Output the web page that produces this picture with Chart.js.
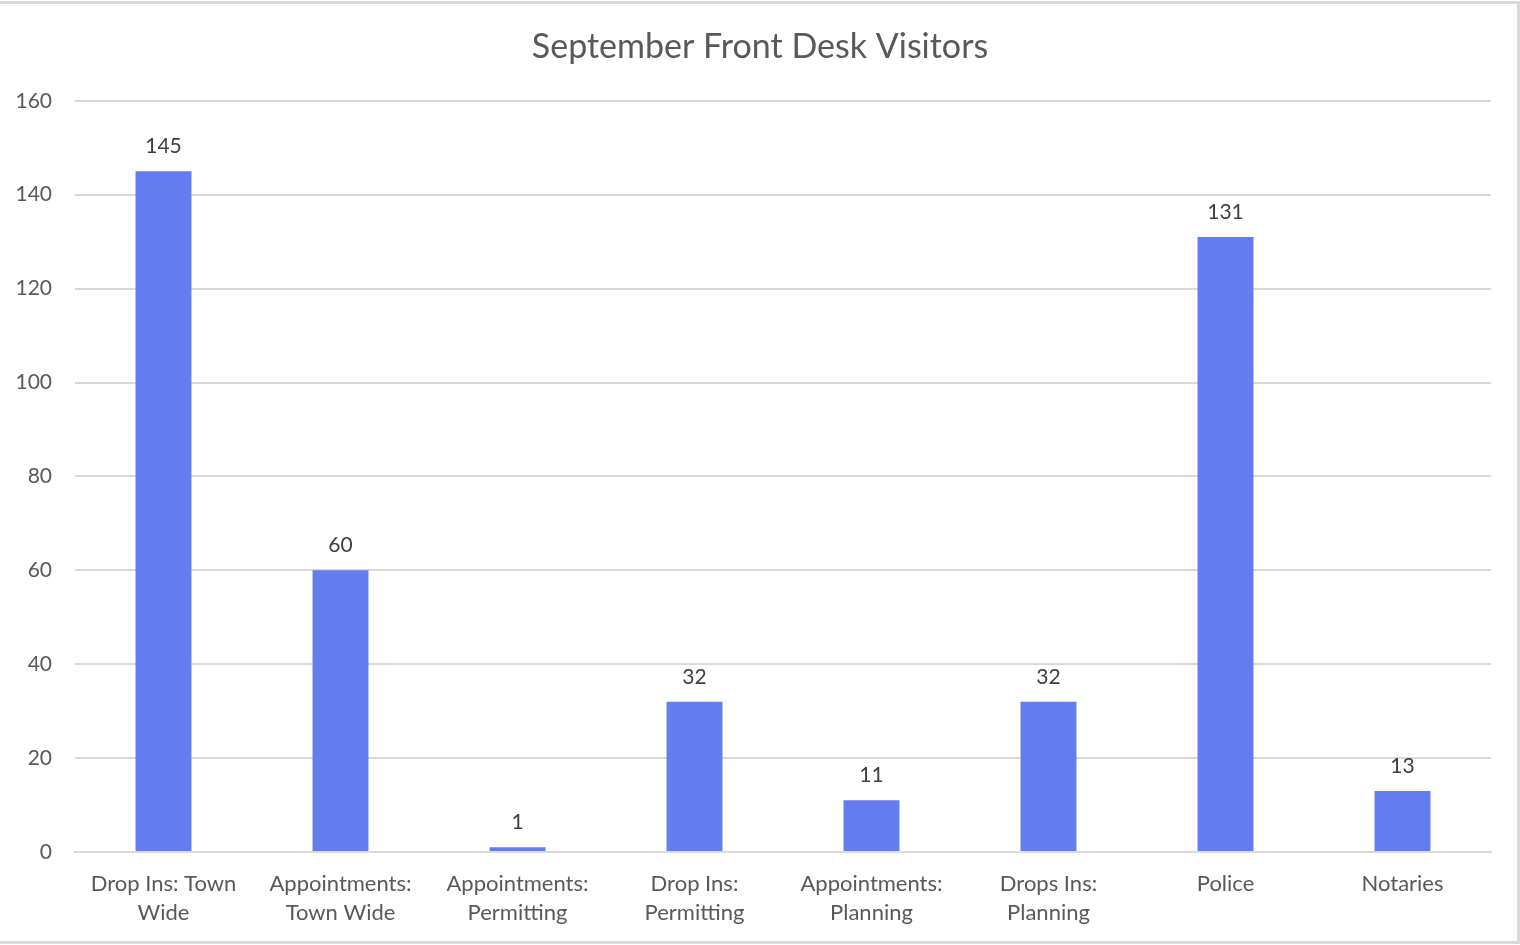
<!DOCTYPE html>
<html><head><meta charset="utf-8">
<script src="https://cdn.jsdelivr.net/npm/chart.js@4/dist/chart.umd.min.js"></script>
<style>html,body{margin:0;padding:0;background:#fff;}#wrap{width:1520px;height:945px;position:relative;}</style>
</head><body><div id="wrap"><canvas id="c" width="1520" height="945"></canvas></div>
<script>
const chartTitle = "September Front Desk Visitors";
const categories = [
  ["Drop Ins: Town", "Wide"],
  ["Appointments:", "Town Wide"],
  ["Appointments:", "Permitting"],
  ["Drop Ins:", "Permitting"],
  ["Appointments:", "Planning"],
  ["Drops Ins:", "Planning"],
  ["Police"],
  ["Notaries"]
];
const visitors = [145, 60, 1, 32, 11, 32, 131, 13];
const yMin = 0, yMax = 160, yStep = 20;

const FONT = "Lato, 'Noto Sans', sans-serif";
const TXT = "#595959";

const frame = {
  id: 'frame',
  beforeDraw(chart) {
    const ctx = chart.ctx;
    ctx.save();
    ctx.fillStyle = '#fff';
    ctx.fillRect(0, 0, chart.width, chart.height);
    ctx.strokeStyle = '#d9d9d9';
    ctx.lineWidth = 3;
    ctx.strokeRect(-2, 2.5, 1520.5, 940);
    ctx.restore();
  }
};
const valueLabels = {
  id: 'valueLabels',
  afterDatasetsDraw(chart) {
    const ctx = chart.ctx;
    const meta = chart.getDatasetMeta(0);
    ctx.save();
    ctx.font = "21px " + FONT;
    ctx.fillStyle = "#404040";
    ctx.textAlign = 'center';
    ctx.textBaseline = 'middle';
    meta.data.forEach((bar, i) => {
      ctx.fillText(String(chart.data.datasets[0].data[i]), bar.x, bar.y - 25);
    });
    ctx.restore();
  }
};

new Chart(document.getElementById('c'), {
  type: 'bar',
  data: {
    labels: categories,
    datasets: [{
      label: 'Visitors',
      data: visitors,
      backgroundColor: '#637cef',
      borderWidth: 0,
      categoryPercentage: 1,
      barPercentage: 0.316
    }]
  },
  options: {
    responsive: false,
    animation: false,
    devicePixelRatio: 1,
    layout: { padding: { left: 0, right: 0, top: 0, bottom: 0 } },
    plugins: {
      legend: { display: false },
      tooltip: { enabled: false },
      title: {
        display: true,
        text: chartTitle,
        color: TXT,
        font: { family: FONT, size: 34, weight: 'normal' },
        padding: { top: 27, bottom: 33 }
      }
    },
    scales: {
      x: {
        grid: { display: false, drawTicks: false },
        border: { display: true, color: '#d9d9d9', width: 2 },
        ticks: { color: TXT, font: { family: FONT, size: 22, lineHeight: 1.3 }, padding: 18, maxRotation: 0, autoSkip: false },
        afterFit(s) { s.height = 93; }
      },
      y: {
        min: yMin, max: yMax,
        grid: { color: '#d9d9d9', lineWidth: 2, drawTicks: false },
        border: { display: false },
        ticks: { stepSize: yStep, color: TXT, font: { family: FONT, size: 21 }, padding: 23 },
        afterFit(s) { s.width = 75; }
      },
      yRight: {
        position: 'right',
        min: yMin, max: yMax,
        grid: { display: false, drawTicks: false },
        border: { display: false },
        ticks: { display: false },
        afterFit(s) { s.width = 29; }
      }
    }
  },
  plugins: [frame, valueLabels]
});
</script>
</body></html>
